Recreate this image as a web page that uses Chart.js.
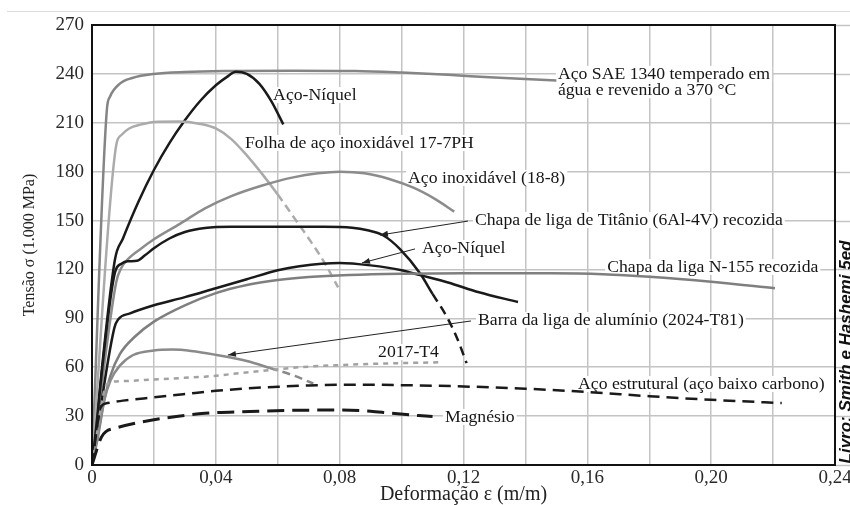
<!DOCTYPE html>
<html lang="pt">
<head>
<meta charset="utf-8">
<title>Tensão x Deformação</title>
<script src="https://cdn.jsdelivr.net/npm/chart.js@4.4.1/dist/chart.umd.min.js"></script>
<style>
  html, body { margin: 0; padding: 0; background: #fff; }
  #wrap { position: relative; width: 850px; height: 505px; }
</style>
</head>
<body>
<div id="wrap"><canvas id="stressChart"></canvas></div>
<script>
// Tick labels
const strainTickLabels = ['0', '0,04', '0,08', '0,12', '0,16', '0,20', '0,24'];
const stressTickLabels = ['0', '30', '60', '90', '120', '150', '180', '210', '240', '270'];

// Curves: [deformação, tensão]
const sae1340 = [[0, 0], [0.0048, 218], [0.0058, 226], [0.009, 234], [0.013, 237.5], [0.02, 240], [0.03, 241.2],
  [0.045, 241.8], [0.065, 242], [0.085, 241.8], [0.1, 240.8], [0.115, 239.4], [0.13, 237.8], [0.15, 236]];
const acoNiquelTop = [[0, 0], [0.0074, 126], [0.01, 139], [0.015, 161.5], [0.02, 181], [0.025, 197.5], [0.03, 211.5],
  [0.035, 223.5], [0.04, 233], [0.0435, 238], [0.0465, 241.3], [0.05, 240], [0.054, 234], [0.058, 223], [0.0618, 209]];
const folha177PH = [[0, 0], [0.0078, 196], [0.0095, 202.5], [0.012, 206.5], [0.016, 209], [0.02, 210.5], [0.028, 210.8],
  [0.035, 209.3], [0.04, 206.5], [0.045, 200], [0.05, 190], [0.055, 178.5], [0.06, 166], [0.065, 152.5],
  [0.07, 139], [0.075, 124.5], [0.0795, 109]];
const inox188 = [[0, 0], [0.0078, 112], [0.0095, 121], [0.0117, 126.5], [0.016, 133], [0.02, 138.5], [0.0284, 148],
  [0.0365, 157.5], [0.045, 165], [0.055, 171.5], [0.065, 176.5], [0.073, 179], [0.08, 180], [0.088, 179],
  [0.096, 175.5], [0.104, 170], [0.111, 163], [0.117, 155.5]];
const titanio = [[0, 0], [0.0074, 118], [0.0095, 123.5], [0.0115, 125], [0.0145, 125.3], [0.017, 128.5], [0.02, 133],
  [0.025, 139], [0.03, 143], [0.0365, 145.5], [0.045, 146.2], [0.06, 146.2], [0.075, 146.2], [0.084, 145.6],
  [0.089, 144], [0.094, 141], [0.0995, 132.5], [0.106, 117.5], [0.11, 105], [0.1146, 91], [0.118, 77.5], [0.121, 62.5]];
const acoNiquelLow = [[0, 0], [0.0072, 84], [0.0085, 89.5], [0.0123, 93], [0.02, 98], [0.03, 103], [0.04, 108.5],
  [0.05, 114], [0.06, 119.5], [0.067, 122], [0.08, 124], [0.09, 122.5], [0.1, 119.5], [0.106, 116.5],
  [0.115, 112], [0.125, 106], [0.1376, 100]];
const n155 = [[0, 0], [0.002, 18], [0.004, 40], [0.006, 55], [0.009, 68], [0.014, 79], [0.02, 88], [0.03, 98],
  [0.04, 105.5], [0.05, 110.5], [0.06, 113.5], [0.07, 115.3], [0.083, 116.6], [0.1, 117.4], [0.12, 117.7],
  [0.148, 117.6], [0.165, 117], [0.18, 115.5], [0.2, 112.5], [0.2206, 108.5]];
const al2024 = [[0, 0], [0.002, 20], [0.004, 40], [0.006, 52], [0.009, 61], [0.0133, 67.5], [0.02, 70.3], [0.026, 70.8],
  [0.032, 70], [0.0403, 67.5], [0.05, 63.8], [0.0575, 59.5], [0.065, 55], [0.0715, 50]];
const al2017 = [[0, 0], [0.005, 50], [0.01, 51.5], [0.02, 52.5], [0.03, 53.5], [0.0365, 54.2], [0.051, 57],
  [0.0672, 60], [0.08, 61.3], [0.095, 62.3], [0.1124, 63]];
const acoEstrutural = [[0, 0], [0.003, 36], [0.005, 38], [0.01, 39.5], [0.02, 41.5], [0.03, 43.5], [0.04, 45.5],
  [0.05, 47], [0.06, 48], [0.07, 48.8], [0.085, 49.3], [0.1, 49], [0.12, 48.2], [0.14, 46.8], [0.16, 44.8],
  [0.18, 42.2], [0.2, 40], [0.2228, 38]];
const magnesio = [[0, 0], [0.003, 17], [0.0045, 20.5], [0.0074, 22.5], [0.015, 26], [0.0235, 28.8], [0.0365, 31.7],
  [0.051, 32.8], [0.065, 33.6], [0.08, 33.7], [0.09, 33], [0.0963, 31.8], [0.11, 29.7]];

const gridColor = '#c4c4c4';
const serif = '"Liberation Serif", "Times New Roman", serif';

// curve labels: text, anchor (data units), optional leader end (data units)
const curveLabels = [
  { text: 'Aço SAE 1340 temperado em', x: 0.1505, y: 240 },
  { text: 'água e revenido a 370 °C', x: 0.1505, y: 230 },
  { text: 'Aço-Níquel', x: 0.0585, y: 227 },
  { text: 'Folha de aço inoxidável 17-7PH', x: 0.0494, y: 197.6 },
  { text: 'Aço inoxidável (18-8)', x: 0.1021, y: 176.1 },
  { text: 'Chapa de liga de Titânio (6Al-4V) recozida', x: 0.1237, y: 150.3, to: [0.0930, 141.1] },
  { text: 'Aço-Níquel', x: 0.1066, y: 133.2, to: [0.0872, 124] },
  { text: 'Chapa da liga N-155 recozida', x: 0.1664, y: 121.5 },
  { text: 'Barra da liga de alumínio (2024-T81)', x: 0.1247, y: 89, to: [0.0439, 67.5] },
  { text: '2017-T4', x: 0.0924, y: 69.3 },
  { text: 'Aço estrutural (aço baixo carbono)', x: 0.157, y: 49.7 },
  { text: 'Magnésio', x: 0.114, y: 29.5 }
];

function toPoints(arr) {
  return arr.map(p => ({ x: p[0], y: p[1] }));
}

function curve(data, color, width, dash, dashFrom) {
  const ds = {
    data: toPoints(data),
    borderColor: color,
    borderWidth: width,
    pointRadius: 0,
    cubicInterpolationMode: 'monotone',
    borderDash: dashFrom === undefined ? (dash || []) : [],
    borderCapStyle: 'butt'
  };
  if (dashFrom !== undefined) {
    ds.segment = { borderDash: ctx => (ctx.p0.parsed.x >= dashFrom ? dash : undefined) };
  }
  return ds;
}

/**
 * Labels, leaders, frame and side credit
 */
const labelsPlugin = {
  id: 'curveLabels',
  beforeDatasetsDraw(chart) {
    const { ctx, scales: { x, y } } = chart;
    ctx.save();
    ctx.font = '17.7px ' + serif;
    ctx.textBaseline = 'middle';
    ctx.textAlign = 'left';
    curveLabels.forEach(l => {
      const px = x.getPixelForValue(l.x);
      const py = y.getPixelForValue(l.y);
      const w = ctx.measureText(l.text).width;
      ctx.fillStyle = '#fff';
      ctx.fillRect(px - 2, py - 8, w + 4, 16);
      ctx.fillStyle = '#161616';
      ctx.fillText(l.text, px, py);
    });
    ctx.restore();
  },
  afterDatasetsDraw(chart) {
    const { ctx, chartArea: a, scales: { x, y } } = chart;
    ctx.save();
    // leader lines with arrows
    ctx.strokeStyle = '#222';
    ctx.fillStyle = '#222';
    ctx.lineWidth = 1;
    curveLabels.filter(l => l.to).forEach(l => {
      const x0 = x.getPixelForValue(l.x) - 7;
      const y0 = y.getPixelForValue(l.y) + 1;
      const x1 = x.getPixelForValue(l.to[0]);
      const y1 = y.getPixelForValue(l.to[1]);
      ctx.beginPath();
      ctx.moveTo(x0, y0);
      ctx.lineTo(x1, y1);
      ctx.stroke();
      const ang = Math.atan2(y1 - y0, x1 - x0);
      ctx.beginPath();
      ctx.moveTo(x1, y1);
      ctx.lineTo(x1 - 8 * Math.cos(ang) + 3 * Math.sin(ang), y1 - 8 * Math.sin(ang) - 3 * Math.cos(ang));
      ctx.lineTo(x1 - 8 * Math.cos(ang) - 3 * Math.sin(ang), y1 - 8 * Math.sin(ang) + 3 * Math.cos(ang));
      ctx.closePath();
      ctx.fill();
    });

    // horizontal grid stubs past the right border
    ctx.strokeStyle = gridColor;
    ctx.lineWidth = 1.5;
    y.ticks.forEach(t => {
      const py = Math.round(y.getPixelForValue(t.value)) + 0.5;
      ctx.beginPath();
      ctx.moveTo(a.right, py);
      ctx.lineTo(a.right + 15, py);
      ctx.stroke();
    });

    // frame
    ctx.strokeStyle = '#111';
    ctx.lineWidth = 2;
    ctx.strokeRect(a.left, a.top, a.right - a.left, a.bottom - a.top);

    // thin page rule on top
    ctx.strokeStyle = '#dcdcdc';
    ctx.lineWidth = 1;
    ctx.beginPath();
    ctx.moveTo(7, 11.5);
    ctx.lineTo(850, 11.5);
    ctx.stroke();

    // side credit (cut by the right edge as in the scan)
    ctx.translate(846, 352);
    ctx.rotate(-Math.PI / 2);
    ctx.font = 'italic bold 17px "Liberation Sans", Arial, sans-serif';
    ctx.fillStyle = '#111';
    ctx.textAlign = 'center';
    ctx.textBaseline = 'middle';
    ctx.fillText('Livro: Smith e Hashemi 5ed', 0, 0);
    ctx.restore();
  }
};

Chart.defaults.font.family = serif;
Chart.defaults.color = '#2a2a2a';

new Chart(document.getElementById('stressChart'), {
  type: 'line',
  data: {
    datasets: [
      curve(magnesio, '#1a1a1a', 3, [17, 8]),
      curve(acoEstrutural, '#1a1a1a', 2.5, [12, 7]),
      curve(al2017, '#a2a2a2', 2.5, [5, 5]),
      curve(al2024, '#8a8a8a', 2.5, [8, 5], 0.057),
      curve(n155, '#7f7f7f', 2.5),
      curve(acoNiquelLow, '#1a1a1a', 2.5),
      curve(titanio, '#1a1a1a', 2.5, [9, 6], 0.107),
      curve(inox188, '#8c8c8c', 2.5),
      curve(folha177PH, '#ababab', 2.5, [8, 5], 0.06),
      curve(acoNiquelTop, '#1a1a1a', 2.5),
      curve(sae1340, '#858585', 2.5)
    ]
  },
  options: {
    responsive: true,
    maintainAspectRatio: false,
    animation: false,
    layout: { padding: { top: 25, right: 15, bottom: 0, left: 0 } },
    plugins: {
      legend: { display: false },
      tooltip: { enabled: false }
    },
    scales: {
      x: {
        type: 'linear',
        min: 0,
        max: 0.24,
        afterFit: s => { s.height = 40; s.paddingLeft = 0; s.paddingRight = 0; },
        border: { display: false },
        grid: { color: gridColor, lineWidth: 1.5, drawTicks: false },
        ticks: {
          stepSize: 0.02,
          autoSkip: false,
          maxRotation: 0,
          padding: 2,
          font: { size: 19 },
          callback: function(value) {
            const k = Math.round(value / 0.02);
            return k % 2 ? '' : strainTickLabels[k / 2];
          }
        },
        title: {
          display: true,
          text: 'Deformação ε (m/m)',
          font: { size: 20, lineHeight: 1 },
          padding: 0,
          color: '#222'
        }
      },
      y: {
        min: 0,
        max: 270,
        afterFit: s => { s.width = 92; s.paddingTop = 0; s.paddingBottom = 0; },
        border: { display: false },
        grid: { color: gridColor, lineWidth: 1.5, drawTicks: false },
        ticks: {
          stepSize: 30,
          padding: 8,
          font: { size: 19 },
          callback: function(value) {
            return stressTickLabels[Math.round(value / 30)];
          }
        },
        title: {
          display: true,
          text: 'Tensão σ (1.000 MPa)',
          font: { size: 16 },
          padding: { top: 20, bottom: 0 },
          color: '#222'
        }
      }
    }
  },
  plugins: [labelsPlugin]
});
</script>
</body>
</html>
